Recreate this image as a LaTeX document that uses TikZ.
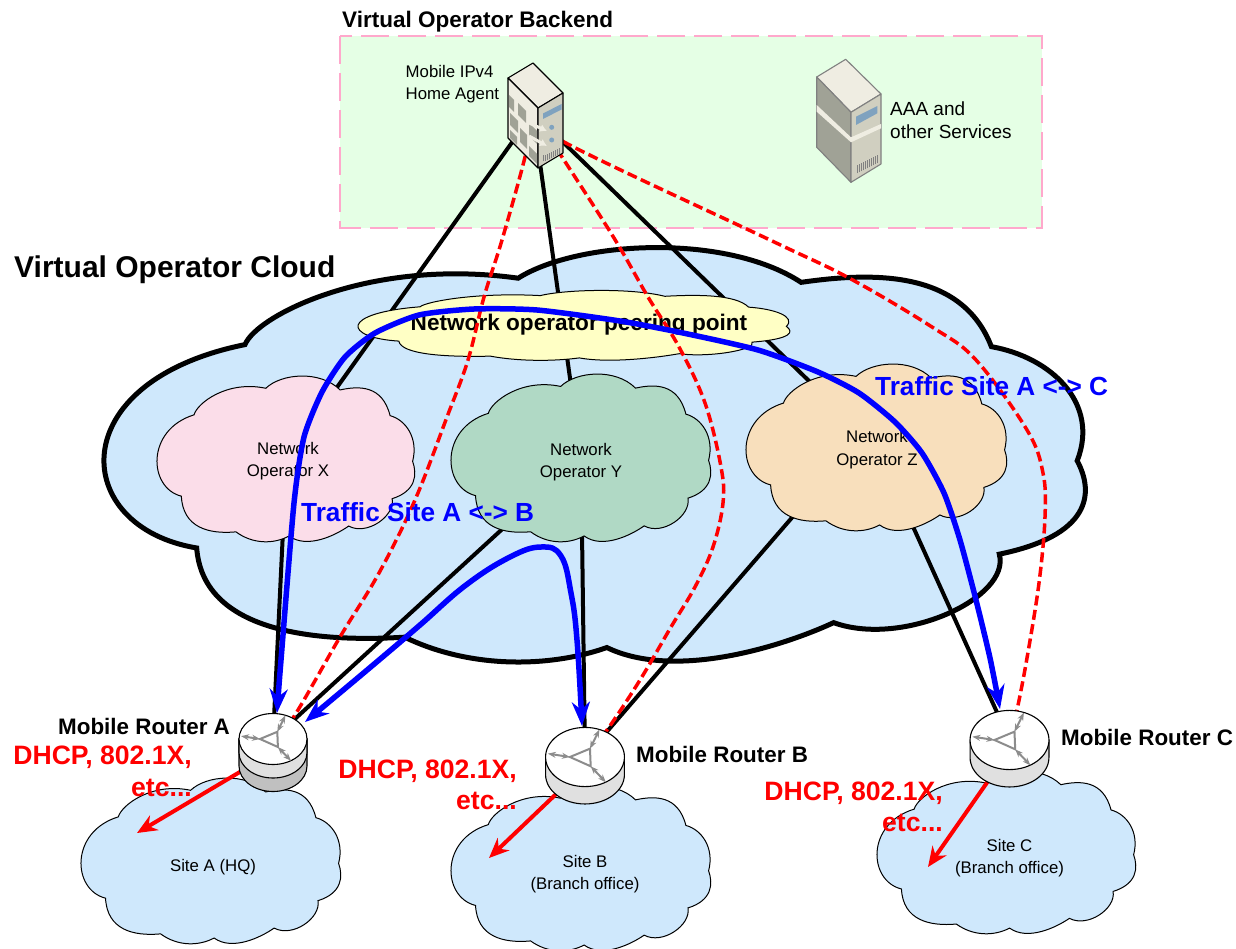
\documentclass[tikz,border=0pt]{standalone}
\usepackage{fontspec}
\setmainfont{Liberation Sans}
\usetikzlibrary{arrows.meta}

\definecolor{backendgreen}{HTML}{E5FFE5}
\definecolor{backendpink}{HTML}{FFA8CC}
\definecolor{cloudblue}{HTML}{CFE8FC}
\definecolor{cloudpink}{HTML}{FBDDE9}
\definecolor{cloudgreen}{HTML}{B0D9C5}
\definecolor{cloudtan}{HTML}{F8DFBC}
\definecolor{cloudyellow}{HTML}{FFFFC5}
\definecolor{routerlight}{HTML}{E0E0E0}
\definecolor{routerdark}{HTML}{C0C0C0}
\definecolor{routergray}{HTML}{8C8C8C}
\definecolor{servertop}{HTML}{EFEDE2}
\definecolor{serverside}{HTML}{A0A296}
\definecolor{serverfront}{HTML}{D0CFC0}
\definecolor{serverscreen}{HTML}{7FA2BF}

\tikzset{
    thincloud/.style={draw=black,line width=1pt},
    linkline/.style={draw=black,line width=4pt},
    signalline/.style={draw=red,line width=3.5pt,dash pattern=on 10pt off 4.5pt},
    trafficline/.style={draw=blue,line width=5.5pt,line join=round,
        arrows={Stealth[length=24pt,width=18pt]-Stealth[length=24pt,width=18pt]}},
    dhcparrow/.style={draw=red,line width=4pt,arrows={-Stealth[length=20pt,width=17pt]}},
    smalllabel/.style={font=\fontsize{16.8}{22.5}\selectfont,align=center,inner sep=0pt},
    boldlabel/.style={font=\fontsize{22.4}{26}\selectfont\bfseries,anchor=west,inner sep=0pt},
    redlabel/.style={font=\fontsize{26.6}{31.5}\selectfont\bfseries,text=red,align=right,anchor=east,inner sep=0pt},
    trafficlabel/.style={font=\fontsize{26.2}{30}\selectfont\bfseries,text=blue,anchor=west,inner sep=0pt},
    routerline/.style={draw=black,line width=1.1pt},
    routericon/.style={draw=routergray,line width=2pt},
    routertips/.style={arrows={Stealth[length=8pt,width=6pt]-Stealth[length=8pt,width=6pt]}},
}

\newcommand{\cloudpath}{(14.3,24)
    .. controls (15.5,17) and (27,3) .. (42,8)
    .. controls (48,-1) and (63,-3) .. (70.7,9)
    .. controls (78,6.5) and (87,6) .. (90,24.5)
    .. controls (96,27) and (101,38) .. (98.7,52)
    .. controls (100.5,60) and (100,70) .. (90.8,74.5)
    .. controls (92,85) and (81,97) .. (74,91)
    .. controls (69,96.5) and (58,105) .. (51,97)
    .. controls (45,102) and (37,102) .. (30.5,94.5)
    .. controls (20,96) and (10,92) .. (9.4,73)
    .. controls (-3.4,68) and (-4.4,33) .. (14.3,24) -- cycle}

\newcommand{\netcloud}[6]{
    \begin{scope}[shift={(#2,#3)},xscale=#4/100,yscale=#5/100]
        \draw[#6] \cloudpath;
        \coordinate (#1) at (50,50);
    \end{scope}
}

\newcommand{\routerlayer}[2]{
    \draw[routerline,fill=#2] (-34,0) -- (-34,#1) arc (180:0:34 and 25.5) -- (34,0) -- cycle;
}

\newcommand{\router}[5]{
    \begin{scope}[shift={(#2,#3)},scale=#4]
        #5
        \draw[routerline,fill=white] (0,0) ellipse (34 and 25.5);
        \draw[routericon] (-13,0) -- (4.3,-7.2) -- (4.9,8) -- cycle;
        \draw[routericon,routertips] (4.3,-7.2) -- (12.4,-23.6);
        \draw[routericon,routertips] (-13,0) -- (-32,-2.9);
        \draw[routericon,routertips] (4.9,8) -- (18,21.8);
    \end{scope}
}

\begin{document}
\begin{tikzpicture}[x=1pt,y=-1pt]
    \useasboundingbox (0,0) rectangle (1236,949);

    \draw[fill=backendgreen,draw=backendpink,line width=1.2pt,dash pattern=on 28pt off 9pt] (340,36) rectangle (1042,228);
    \node[boldlabel,font=\fontsize{22.5}{26}\selectfont\bfseries] (backendtitle) at (342,21.5) {Virtual Operator Backend};

    \coordinate (ha) at (533,113);
    \coordinate (aaa) at (849,120);
    \coordinate (ra) at (273,739);
    \coordinate (rb) at (585,757);
    \coordinate (rc) at (1009.5,740);

    \netcloud{operatorcloud}{104}{245}{986}{415}{fill=cloudblue,draw=black,line width=5pt,line join=miter}
    \node[boldlabel,font=\fontsize{30}{34}\selectfont\bfseries] (cloudtitle) at (14,270) {Virtual Operator Cloud};

    \coordinate (opx) at (286.5,458);
    \coordinate (opy) at (581,457);
    \coordinate (opz) at (877,447);
    \coordinate (opzb) at (853,447);

    \draw[linkline] (ha) -- (opx);
    \draw[linkline] (ha) -- (opy);
    \draw[linkline] (ha) -- (opz);
    \draw[linkline] (opx) -- (ra);
    \draw[linkline] (opy) -- (ra);
    \draw[linkline] (opy) -- (rb);
    \draw[linkline] (opzb) -- (rb);
    \draw[linkline] (opz) -- (rc);

    \netcloud{peering}{358}{290}{434}{70}{thincloud,fill=cloudyellow}
    \netcloud{cloudx}{157}{375}{259}{166}{thincloud,fill=cloudpink}
    \netcloud{cloudy}{451}{373}{261}{168}{thincloud,fill=cloudgreen}
    \netcloud{cloudz}{746}{363}{262}{167}{thincloud,fill=cloudtan}

    \netcloud{sitea}{81}{777}{261}{166}{thincloud,fill=cloudblue}
    \netcloud{siteb}{451}{785}{261}{165}{thincloud,fill=cloudblue}
    \netcloud{sitec}{877}{770}{260}{163}{thincloud,fill=cloudblue}

    \node[font=\fontsize{22.6}{26}\selectfont\bfseries,inner sep=0pt] (peeringlabel) at (579,325) {Network operator peering point};
    \node[smalllabel] (opxlabel) at (288,461) {Network\\Operator X};
    \node[smalllabel] (opylabel) at (581,462) {Network\\Operator Y};
    \node[smalllabel] (opzlabel) at (877,449.5) {Network\\Operator Z};
    \node[smalllabel] (sitealabel) at (213,867) {Site A (HQ)};
    \node[smalllabel] (siteblabel) at (585,874) {Site B\\(Branch office)};
    \node[smalllabel] (siteclabel) at (1009.5,858) {Site C\\(Branch office)};

    % signalling paths
    \draw[signalline] plot[smooth,tension=0.6] coordinates {(ha) (525,157) (502,240) (484,297) (468,360) (447,417) (415,500) (379,573) (340,637) (293,718) (ra)};
    \draw[signalline] plot[smooth,tension=0.6] coordinates {(ha) (562,157) (614,238) (648,297) (679,347) (705,403) (721,467) (723,503) (713,547) (695,587) (671,627) (640,680) (607,730) (rb)};
    \draw[signalline] plot[smooth,tension=0.6] coordinates {(ha) (564,142) (770,240) (849,278) (932,327) (976,360) (1027,430) (1043,473) (1045,517) (1039,583) (1027,658) (1017,710) (rc)};

    % traffic paths
    \coordinate (raup) at (277,713);
    \coordinate (raside) at (305,722);
    \coordinate (rbup) at (582,726);
    \coordinate (rcup) at (1000,709);
    \draw[trafficline] plot[smooth,tension=0.4] coordinates {(raup) (281,660) (294,503) (304,437) (322,392) (345,357) (375,333) (419,315) (474,309) (537,310) (620,321) (683,333) (758,350) (818,372) (859,393) (895,422) (922,453) (944,493) (960,540) (976,600) (990,658) (rcup)};
    \draw[trafficline] plot[smooth,tension=0.7] coordinates {(raside) (379,660) (420,625) (466,585) (510,557) (541,547) (561,556) (571,593) (577,640) (rbup)};

    % lan side arrows
    \coordinate (raout) at (255,763);
    \coordinate (rbout) at (575,776);
    \coordinate (rcout) at (1000,764);
    \coordinate (siteatip) at (137,833);
    \coordinate (sitebtip) at (489,858);
    \coordinate (sitectip) at (928,867);
    \draw[dhcparrow] (raout) -- (siteatip);
    \draw[dhcparrow] (rbout) -- (sitebtip);
    \draw[dhcparrow] (rcout) -- (sitectip);

    \router{routera}{273}{739}{1}{\routerlayer{27}{routerdark}\routerlayer{13.5}{routerlight}}
    \router{routerb}{585}{757}{1.16}{\routerlayer{15}{routerlight}}
    \router{routerc}{1009.5}{740}{1.16}{\routerlayer{15}{routerlight}}

    \node[boldlabel] (labela) at (58,726) {Mobile Router A};
    \node[boldlabel] (labelb) at (636,754) {Mobile Router B};
    \node[boldlabel] (labelc) at (1061,737) {Mobile Router C};
    \node[redlabel] (dhcpa) at (192,771.5) {DHCP, 802.1X,\\etc...};
    \node[redlabel] (dhcpb) at (517,785) {DHCP, 802.1X,\\etc...};
    \node[redlabel] (dhcpc) at (943,807) {DHCP, 802.1X,\\etc...};
    \node[trafficlabel] (trafficab) at (301,512) {Traffic Site A <-> B};
    \node[trafficlabel] (trafficac) at (875,386) {Traffic Site A <-> C};

    % home agent
    \draw[fill=servertop,line width=1.1pt,line join=round] (508,78) -- (533,63) -- (563,93) -- (538,108) -- cycle;
    \draw[fill=servertop,line width=1.1pt,line join=round] (508,78) -- (538,108) -- (538,168) -- (508,138) -- cycle;
    \draw[fill=serverfront,line width=1.1pt,line join=round] (538,108) -- (563,93) -- (563,153) -- (538,168) -- cycle;
    \foreach \u/\v/\du/\dv in {1/16/5/12, 10/15/8/12, 2/33/8/12, 12/38/7/14, 21/24/8/13, 21/47/8/10, 2/50/7/8} {
        \fill[serverside] ({508+\u},{78+\u+\v}) -- ({508+\u+\du},{78+\u+\du+\v}) -- ({508+\u+\du},{78+\u+\du+\v+\dv}) -- ({508+\u},{78+\u+\v+\dv}) -- cycle;
    }
    \draw[servertop,line width=3pt,-{Latex[length=7pt,width=8pt]}] (529,123) -- (547,131);
    \draw[servertop,line width=3pt,-{Latex[length=7pt,width=8pt]}] (529,136) -- (547,146);
    \fill[serverscreen] (543,113.5) -- (561.5,104) -- (561.5,109.5) -- (543,119) -- cycle;
    \fill[serverscreen] (551.7,127.3) circle (2.5);
    \fill[serverscreen] (551.7,140) circle (2.5);
    \foreach \i in {0,...,8} {
        \draw[gray,line width=1pt] ({543+2*\i},{161.5-0.93*\i}) -- ++(0,-6);
    }
    \node[smalllabel,align=left,anchor=west] (halabel) at (405.5,84) {Mobile IPv4\\Home Agent};

    % aaa server
    \draw[fill=servertop,draw=gray,line width=1.1pt,line join=round] (816.7,77) -- (845.7,59.3) -- (881,94) -- (851,112.3) -- cycle;
    \draw[fill=serverside,draw=gray,line width=1.1pt,line join=round] (816.7,77) -- (851,112.3) -- (851,182.3) -- (816.7,147.3) -- cycle;
    \draw[fill=serverfront,draw=gray,line width=1.1pt,line join=round] (851,112.3) -- (881,94) -- (881,164) -- (851,182.3) -- cycle;
    \fill[servertop] (816.7,105) -- (851,137.3) -- (881,124) -- (881,128.3) -- (851,142.3) -- (816.7,111.7) -- cycle;
    \fill[serverscreen] (856,116.7) -- (877.3,106) -- (877.3,113.3) -- (856,125) -- cycle;
    \foreach \i in {0,...,10} {
        \draw[gray,line width=1pt] ({857+2*\i},{173.3-1*\i}) -- ++(0,-8);
    }
    \node[smalllabel,align=left,anchor=west,font=\fontsize{19}{23}\selectfont] (aaalabel) at (890,120.5) {AAA and\\other Services};

\end{tikzpicture}
\end{document}
